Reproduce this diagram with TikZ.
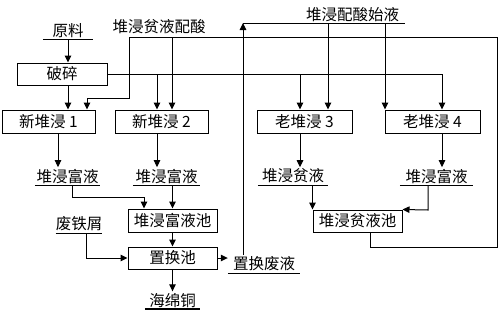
\documentclass[tikz,border=0pt]{standalone}
\usepackage{fontspec}
\setmainfont{Noto Sans CJK SC}
\usepackage{tikz}
\usetikzlibrary{arrows.meta, positioning, calc}

\begin{document}
\begin{tikzpicture}[
        x=1pt, y=-1pt,
        font=\fontsize{15.5pt}{18pt}\selectfont,
        box/.style={rectangle, draw=black, line width=1pt, minimum height=23pt, inner sep=0pt, align=center},
        stream/.style={inner xsep=0pt, inner ysep=1.5pt, anchor=south,
            append after command={(\tikzlastnode.south west) edge[line width=#1] (\tikzlastnode.south east)}},
        stream/.default=1pt,
        arrow/.style={-{Triangle[width=6.5pt,length=7pt]}, line width=1pt},
        line/.style={line width=1pt}
    ]
        \useasboundingbox (0,0) rectangle (500,311);

        % feeds and leaching heaps
        \node[stream, minimum width=50pt] (raw) at (68,39) {原料};
        \node[box, minimum width=90pt, minimum height=22pt] (crush) at (62,74) {破碎};
        \node[anchor=south, inner sep=1pt] (leanacid) at (159,35) {堆浸贫液配酸};
        \node[stream, minimum width=105pt] (acid) at (352.5,23) {堆浸配酸始液};

        \node[box, minimum width=93pt] (new1) at (48.5,121.5) {新堆浸 1};
        \node[box, minimum width=93pt] (new2) at (161.5,121.5) {新堆浸 2};
        \node[box, minimum width=95pt] (old3) at (304.5,121.5) {老堆浸 3};
        \node[box, minimum width=95pt] (old4) at (432.5,121.5) {老堆浸 4};

        % solutions
        \node[stream, minimum width=65pt] (rich1) at (67.5,185) {堆浸富液};
        \node[stream, minimum width=67pt] (rich2) at (166.5,185) {堆浸富液};
        \node[stream, minimum width=70pt] (lean3) at (293,185) {堆浸贫液};
        \node[stream, minimum width=73pt] (rich4) at (436.5,185) {堆浸富液};

        \node[box, minimum width=89pt] (richpool) at (172.5,220.5) {堆浸富液池};
        \node[box, minimum width=89pt, minimum height=22pt] (leanpool) at (357.5,221) {堆浸贫液池};
        \node[box, minimum width=89pt, minimum height=22pt] (swap) at (172.5,258) {置换池};
        \node[stream, minimum width=42pt] (iron) at (79,233) {废铁屑};
        \node[stream, minimum width=72pt] (spent) at (264,273) {置换废液};
        \node[stream=2pt, minimum width=55pt] (sponge) at (172.5,309) {海绵铜};

        % bend points
        \coordinate (feed2) at (157,74);
        \coordinate (feed3) at (300,74);
        \coordinate (feed4) at (442,74);
        \coordinate (acid3) at (328,23);
        \coordinate (acid4) at (385,23);
        \coordinate (ret) at (243,23);
        \coordinate (back) at (370,247);
        \coordinate (rt) at (497,37);
        \coordinate (lt) at (129,37);
        \coordinate (tap2) at (172,37);
        \coordinate (kink) at (87,98);
        \coordinate (mix0) at (72,197);
        \coordinate (mix1) at (144,197);
        \coordinate (ironbend) at (86,258);
        \coordinate (r4) at (428,210);

        \draw[arrow] (raw.south) -- (raw.south |- crush.north);
        \draw[arrow] (raw.south |- crush.south) -- (raw.south |- new1.north);
        \draw[line] (crush.east) -- (feed4);
        \draw[arrow] (feed2) -- (feed2 |- new2.north);
        \draw[arrow] (feed3) -- (feed3 |- old3.north);
        \draw[arrow] (feed4) -- (feed4 |- old4.north);

        \draw[arrow] (acid3) -- (acid3 |- old3.north);
        \draw[arrow] (acid4) -- (acid4 |- old4.north);

        % lean solution back to the new heaps
        \draw[arrow] (leanpool.south -| back) -- (back) -| (rt) -- (lt) |- (kink) -- (kink |- new1.north);
        \draw[arrow] (tap2) -- (tap2 |- new2.north);

        \draw[arrow] ([xshift=9.5pt]new1.south) -- ([xshift=9.5pt]new1.south |- rich1.north);
        \draw[arrow] (new2.south -| feed2) -- (feed2 |- rich2.north);
        \draw[arrow] (old3.south -| feed3) -- (feed3 |- lean3.north);
        \draw[arrow] (old4.south -| feed4) -- (feed4 |- rich4.north);

        \draw[arrow] (mix0 |- rich1.south) -- (mix0) -- (mix1) -- (mix1 |- richpool.north);
        \draw[arrow] (rich2.south -| richpool.north) -- (richpool.north);
        \draw[arrow] (leanpool.north west |- lean3.south) -- (leanpool.north west);
        \draw[arrow] (r4 |- rich4.south) -- (r4) -- (leanpool.north east);

        \draw[arrow] (richpool) -- (swap);
        \draw[arrow] (ironbend |- iron.south) -- (ironbend) -- (swap.west);
        \draw[arrow] (swap.east) -- (swap.east -| spent.west);
        \draw[arrow] (swap.south) -- (swap.south |- sponge.north);

        \draw[arrow] (spent.north -| ret) -- (ret);
        \draw[line] (ret) -- (acid.south west);

    \end{tikzpicture}
\end{document}
